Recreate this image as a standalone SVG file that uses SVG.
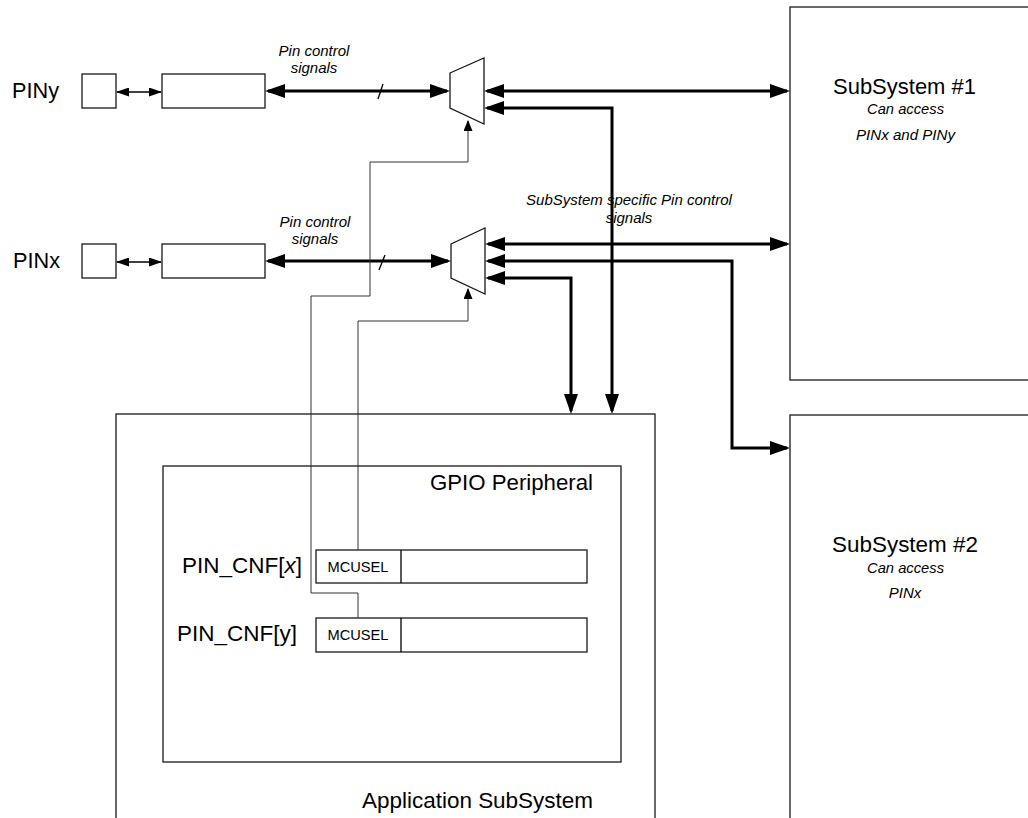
<svg xmlns="http://www.w3.org/2000/svg" width="1028" height="818" viewBox="0 0 1028 818">
<style>
text{font-family:"Liberation Sans",Arial,sans-serif;fill:#000}
.big{font-size:22px}
.it{font-size:15px;font-style:italic}
.sm{font-size:14px}
.box{fill:#fff;stroke:#1a1a1a;stroke-width:1.3}
.bus{fill:none;stroke:#000;stroke-width:3}
.sa{fill:none;stroke:#000;stroke-width:1.3}
.ctl{fill:none;stroke:#333;stroke-width:1}
</style>
<defs>
<marker id="ab" viewBox="0 0 20 14" refX="17" refY="7" markerWidth="20" markerHeight="14" markerUnits="userSpaceOnUse" orient="auto-start-reverse"><path d="M0,0 L20,7 L0,14 z" fill="#000"/></marker>
<marker id="as" viewBox="0 0 13 9" refX="12" refY="4.5" markerWidth="13" markerHeight="9" markerUnits="userSpaceOnUse" orient="auto-start-reverse"><path d="M0,0 L13,4.5 L0,9 z" fill="#000"/></marker>
<marker id="ac" viewBox="0 0 11 9" refX="10" refY="4.5" markerWidth="11" markerHeight="9" markerUnits="userSpaceOnUse" orient="auto-start-reverse"><path d="M0,0 L11,4.5 L0,9 z" fill="#000"/></marker>
</defs>

<g id="subsystem1">
<rect class="box" x="790" y="7" width="260" height="373"/>
<text class="big" x="904.5" y="94" text-anchor="middle" textLength="143" lengthAdjust="spacingAndGlyphs">SubSystem #1</text>
<text class="it" x="905.5" y="114" text-anchor="middle" textLength="77" lengthAdjust="spacingAndGlyphs">Can access</text>
<text class="it" x="905.5" y="140" text-anchor="middle" textLength="99" lengthAdjust="spacingAndGlyphs">PINx and PINy</text>
</g>

<g id="subsystem2">
<rect class="box" x="790" y="415" width="260" height="420"/>
<text class="big" x="905" y="552" text-anchor="middle" textLength="146" lengthAdjust="spacingAndGlyphs">SubSystem #2</text>
<text class="it" x="905.5" y="573" text-anchor="middle" textLength="77" lengthAdjust="spacingAndGlyphs">Can access</text>
<text class="it" x="905" y="598" text-anchor="middle">PINx</text>
</g>

<g id="app-subsystem">
<rect class="box" x="116" y="414" width="539" height="420"/>
<text class="big" x="593" y="808" text-anchor="end" textLength="231" lengthAdjust="spacingAndGlyphs">Application SubSystem</text>
</g>

<g id="gpio">
<rect class="box" x="163" y="466" width="458" height="296"/>
<text class="big" x="593" y="490" text-anchor="end" textLength="163" lengthAdjust="spacingAndGlyphs">GPIO Peripheral</text>
</g>

<g id="pin-cnf-x">
<text class="big" x="182" y="573" textLength="120" lengthAdjust="spacingAndGlyphs">PIN_CNF[<tspan font-style="italic">x</tspan>]</text>
<rect class="box" x="316" y="550" width="271" height="33"/>
<line class="sa" x1="401" y1="550" x2="401" y2="583"/>
<text class="sm" x="358" y="572" text-anchor="middle" textLength="61" lengthAdjust="spacingAndGlyphs">MCUSEL</text>
</g>

<g id="pin-cnf-y">
<text class="big" x="177" y="641" textLength="120" lengthAdjust="spacingAndGlyphs">PIN_CNF[y]</text>
<rect class="box" x="316" y="618" width="271" height="34"/>
<line class="sa" x1="401" y1="618" x2="401" y2="652"/>
<text class="sm" x="358" y="640" text-anchor="middle" textLength="61" lengthAdjust="spacingAndGlyphs">MCUSEL</text>
</g>

<g id="piny">
<text class="big" x="12" y="98" textLength="47" lengthAdjust="spacingAndGlyphs">PINy</text>
<rect class="box" x="82" y="74" width="34" height="34"/>
<rect class="box" x="162" y="74" width="103" height="34"/>
</g>

<g id="pinx">
<text class="big" x="13" y="268" textLength="47" lengthAdjust="spacingAndGlyphs">PINx</text>
<rect class="box" x="82" y="244" width="34" height="34"/>
<rect class="box" x="162" y="244" width="103" height="34"/>
</g>

<g id="mux-y">
<polygon class="box" points="450,73 484,58 484,124 450,108"/>
</g>

<g id="mux-x">
<polygon class="box" points="451,244 485,228 485,294 451,278"/>
</g>

<g id="connectors">
<path class="sa" d="M117,92 H161" marker-start="url(#as)" marker-end="url(#as)"/>
<path class="sa" d="M117,262 H161" marker-start="url(#as)" marker-end="url(#as)"/>
<path class="bus" d="M268,91 H447" marker-start="url(#ab)" marker-end="url(#ab)"/>
<line class="sa" x1="378" y1="99" x2="383" y2="84"/>
<path class="bus" d="M487,91 H787" marker-start="url(#ab)" marker-end="url(#ab)"/>
<path class="bus" d="M487,108 H612 V411" marker-start="url(#ab)" marker-end="url(#ab)"/>
<path class="bus" d="M268,261 H448" marker-start="url(#ab)" marker-end="url(#ab)"/>
<line class="sa" x1="379" y1="270" x2="385" y2="255"/>
<path class="bus" d="M488,244 H787" marker-start="url(#ab)" marker-end="url(#ab)"/>
<path class="bus" d="M488,261 H732 V448 H787" marker-start="url(#ab)" marker-end="url(#ab)"/>
<path class="bus" d="M488,278 H571 V411" marker-start="url(#ab)" marker-end="url(#ab)"/>
<path class="ctl" d="M358,618 V593 H311 V296 H370 V162 H468 V121" marker-end="url(#ac)"/>
<path class="ctl" d="M358,550 V321 H468 V289" marker-end="url(#ac)"/>
<text class="it" x="314" y="56" text-anchor="middle">Pin control</text>
<text class="it" x="314" y="73" text-anchor="middle">signals</text>
<text class="it" x="315" y="227" text-anchor="middle">Pin control</text>
<text class="it" x="315" y="244" text-anchor="middle">signals</text>
<text class="it" x="629" y="205" text-anchor="middle">SubSystem specific Pin control</text>
<text class="it" x="629" y="223" text-anchor="middle">signals</text>
</g>
</svg>
